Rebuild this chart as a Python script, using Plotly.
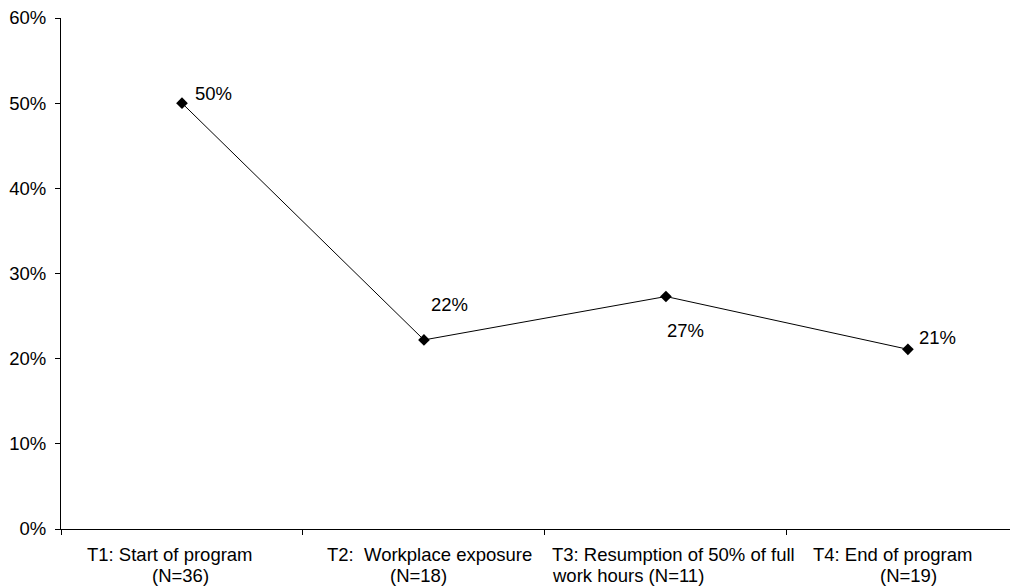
import plotly.graph_objects as go

categories = ["T1", "T2", "T3", "T4"]
label_lines = [
    ["T1: Start of program", "(N=36)"],
    ["T2:  Workplace exposure", "(N=18)"],
    ["T3: Resumption of 50% of full", "work hours (N=11)"],
    ["T4: End of program", "(N=19)"],
]
values = [50.0, 22.2, 27.3, 21.1]
y_ticks = [0, 10, 20, 30, 40, 50, 60]

# styling offsets (pixels) for labels
value_label_shift = [(11, 10), (5, 35), (-1, -34), (9, 12)]
# per category: (xshift line1, xshift line2, xanchor)
cat_label_shift = [(-12, -1, "center"), (6, -5, "center"), (-116, -116, "left"), (-15, 1, "center")]

FONT = "Liberation Sans, Arial, sans-serif"
FS = 18.5

fig = go.Figure()
fig.add_trace(go.Scatter(
    x=categories, y=values, mode="lines+markers",
    line=dict(color="black", width=1),
    marker=dict(symbol="diamond", size=9, color="black"),
    hoverinfo="skip", showlegend=False,
))

annotations = []
for cat, v, (dx, dy) in zip(categories, values, value_label_shift):
    annotations.append(dict(
        x=cat, y=v, xref="x", yref="y", text=f"{v:.0f}%", showarrow=False,
        xanchor="left", yanchor="middle", xshift=dx, yshift=dy,
        font=dict(family=FONT, size=FS, color="black"),
    ))
for cat, lines, (s1, s2, anchor) in zip(categories, label_lines, cat_label_shift):
    for i, (txt, sx) in enumerate(zip(lines, (s1, s2))):
        annotations.append(dict(
            x=cat, y=0, xref="x", yref="paper", text=txt, showarrow=False,
            xanchor=anchor, yanchor="middle", xshift=sx, yshift=-25 - 21 * i,
            font=dict(family=FONT, size=FS, color="black"),
        ))

fig.update_layout(
    width=1010, height=579,
    margin=dict(l=53, r=0, t=10, b=58, pad=0, autoexpand=False),
    paper_bgcolor="white", plot_bgcolor="white",
    font=dict(family=FONT, size=FS, color="black"),
    annotations=annotations,
    xaxis=dict(
        type="category", categoryorder="array", categoryarray=categories,
        range=[-0.5, 3.455], showgrid=False, zeroline=False,
        showline=True, linecolor="black", linewidth=1,
        ticks="outside", ticklen=5, tickcolor="black", tickson="boundaries",
        showticklabels=False,
    ),
    yaxis=dict(
        range=[0, 60], tickvals=y_ticks, ticktext=[f"{t}%" for t in y_ticks],
        showgrid=False, zeroline=False,
        showline=True, linecolor="black", linewidth=1,
        ticks="outside", ticklen=5, tickcolor="black",
        ticklabelstandoff=5, ticklabeloverflow="allow",
        tickfont=dict(family=FONT, size=FS, color="black"),
    ),
)

fig.write_html("out.html")
